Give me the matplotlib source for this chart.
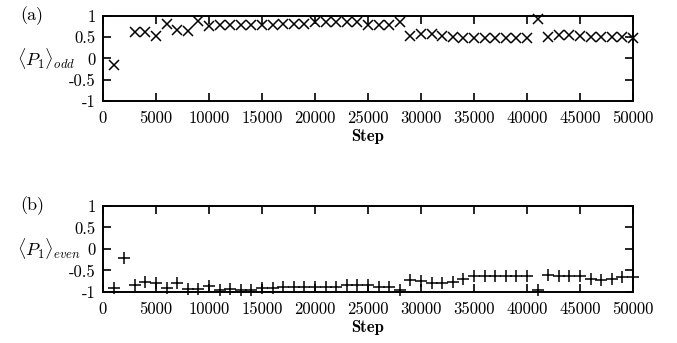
import matplotlib
matplotlib.use("Agg")
import matplotlib.pyplot as plt

plt.rcParams["mathtext.fontset"] = "cm"
plt.rcParams["font.family"] = ["cmr10", "DejaVu Serif"]
plt.rcParams["axes.unicode_minus"] = False

# (a) odd, step 2000 missing
steps_odd = [1000, 3000, 4000, 5000, 6000, 7000, 8000, 9000, 10000,
             11000, 12000, 13000, 14000, 15000, 16000, 17000, 18000, 19000, 20000,
             21000, 22000, 23000, 24000, 25000, 26000, 27000, 28000, 29000, 30000,
             31000, 32000, 33000, 34000, 35000, 36000, 37000, 38000, 39000, 40000,
             41000, 42000, 43000, 44000, 45000, 46000, 47000, 48000, 49000, 50000]
p1_odd = [-0.15, 0.62, 0.62, 0.54, 0.80, 0.68, 0.64, 0.89, 0.77,
          0.78, 0.78, 0.78, 0.78, 0.79, 0.79, 0.81, 0.81, 0.81, 0.85,
          0.85, 0.85, 0.85, 0.85, 0.79, 0.78, 0.78, 0.85, 0.53, 0.57,
          0.58, 0.54, 0.51, 0.48, 0.47, 0.47, 0.47, 0.47, 0.47, 0.47,
          0.93, 0.51, 0.56, 0.56, 0.54, 0.51, 0.50, 0.50, 0.50, 0.49]

# (b) even
steps_even = [1000, 2000, 3000, 4000, 5000, 6000, 7000, 8000, 9000, 10000,
              11000, 12000, 13000, 14000, 15000, 16000, 17000, 18000, 19000, 20000,
              21000, 22000, 23000, 24000, 25000, 26000, 27000, 28000, 29000, 30000,
              31000, 32000, 33000, 34000, 35000, 36000, 37000, 38000, 39000, 40000,
              41000, 42000, 43000, 44000, 45000, 46000, 47000, 48000, 49000, 50000]
p1_even = [-0.91, -0.21, -0.84, -0.76, -0.78, -0.91, -0.80, -0.94, -0.94, -0.86,
           -0.95, -0.94, -0.95, -0.95, -0.90, -0.90, -0.88, -0.88, -0.88, -0.88,
           -0.88, -0.88, -0.84, -0.84, -0.83, -0.88, -0.89, -0.95, -0.71, -0.75,
           -0.79, -0.79, -0.77, -0.69, -0.63, -0.63, -0.63, -0.63, -0.64, -0.64,
           -0.95, -0.60, -0.63, -0.63, -0.63, -0.70, -0.71, -0.70, -0.66, -0.65]

xticks = [0, 5000, 10000, 15000, 20000, 25000, 30000, 35000, 40000, 45000, 50000]
yticks = [-1, -0.5, 0, 0.5, 1]
ytick_labels = ["-1", "-0.5", "0", "0.5", "1"]

fig = plt.figure(figsize=(6.77, 3.43), dpi=100)
ax1 = fig.add_axes([0.152, 0.7055, 0.783, 0.248])
ax2 = fig.add_axes([0.152, 0.1487, 0.783, 0.251])

fs = 12


def style(ax, label, tag):
    ax.set_xlim(0, 50000)
    ax.set_ylim(-1, 1)
    ax.set_xticks(xticks)
    ax.set_xticklabels([str(t) for t in xticks], fontsize=fs)
    ax.set_yticks(yticks)
    ax.set_yticklabels(ytick_labels, fontsize=fs)
    ax.tick_params(direction="in", length=6, width=1.2, top=True, right=True, pad=5)
    ax.tick_params(axis="x", pad=7)
    for s in ax.spines.values():
        s.set_linewidth(1.4)
    ax.set_xlabel("Step", fontsize=fs, family=["cmb10", "DejaVu Serif"], labelpad=2)
    ax.text(-0.162, 0.5, label, transform=ax.transAxes, fontsize=fs + 1,
            ha="left", va="center")
    ax.text(-0.155, 1.0, tag, transform=ax.transAxes, fontsize=fs + 1,
            ha="left", va="center")


ax1.plot(steps_odd, p1_odd, "x", color="black", markersize=6.5, mew=1.1, clip_on=False)
ax2.plot(steps_even, p1_even, "+", color="black", markersize=9, mew=1.1, clip_on=False)

style(ax1, r"$\langle P_1\rangle_{odd}$", "(a)")
style(ax2, r"$\langle P_1\rangle_{even}$", "(b)")

fig.savefig("out.png", dpi=100)
